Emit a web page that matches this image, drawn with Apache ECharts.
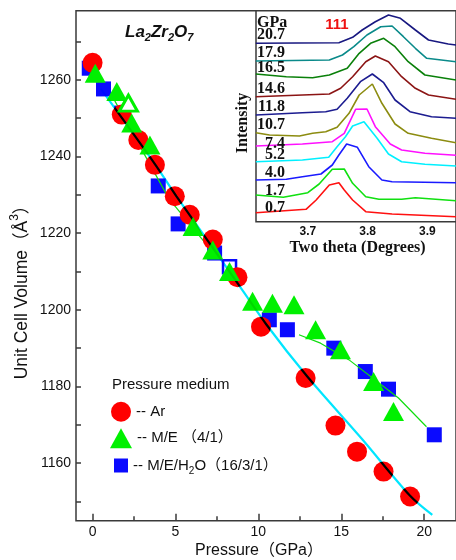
<!DOCTYPE html>
<html><head><meta charset="utf-8">
<script src="https://cdn.jsdelivr.net/npm/echarts@6/dist/echarts.min.js"></script>
<style>html,body{margin:0;padding:0;background:#fff}#c{width:456px;height:560px}</style>
</head><body><div id="c"></div>
<script>
// ---------- main chart data: [pressure GPa, volume Å^3] ----------
const arPoints = [[0.0,1264.4],[1.76,1250.9],[2.76,1244.3],[3.76,1237.8],[4.96,1229.6],[5.86,1224.8],[7.25,1218.3],[8.74,1208.5],[10.16,1195.6],[12.85,1182.2],[14.65,1169.8],[15.95,1163.0],[17.55,1157.8],[19.15,1151.3]];
const mePoints = [[0.16,1261.7],[1.46,1256.9],[2.36,1248.7],[3.46,1243.0],[6.06,1221.7],[7.25,1215.6],[8.26,1210.0],[9.65,1202.2],[10.85,1201.7],[12.15,1201.3],[13.45,1194.8],[14.95,1189.6],[16.95,1181.3],[18.15,1173.5]];
const meHollow = [[2.16,1253.9]];
const mehPoints = [[-0.2,1263.0],[0.66,1257.6],[1.76,1251.3],[3.96,1232.3],[5.16,1222.4],[7.36,1214.8],[10.66,1197.4],[11.75,1194.8],[14.55,1190.0],[16.45,1183.9],[17.85,1179.3],[20.61,1167.4]];
const mehHollow = [[8.26,1211.2]];
const arFit = [[0.5,1257.6],[3.76,1238.0],[5.06,1229.6],[8.45,1208.8],[10.46,1196.3],[12.95,1182.6],[16.25,1166.3],[19.15,1151.5],[20.49,1146.5]];
const meFitLow = [[1.2,1255.6],[4.6,1229.0],[6.8,1217.4]];
const meFitHigh = [[12.45,1193.5],[13.75,1191.3],[15.45,1187.0],[18.45,1177.0],[20.14,1169.5]];
const xMajorTicks = [0,5,10,15,20];
const xMinorTicks = [2.5,7.5,12.5,17.5];
const yTicks = [1150,1160,1170,1180,1190,1200,1210,1220,1230,1240,1250,1260,1270];
const yLabels = [1160,1180,1200,1220,1240,1260];

// ---------- inset: XRD (111) peak profiles [two theta, stacked intensity] ----------
const xrdPressures = ['0.7','1.7','4.0','5.2','7.4','10.7','11.8','14.6','16.5','17.9','20.7'];
const xrd07 = [[3.613,9.0],[3.697,12.4],[3.714,21.7],[3.736,36.7],[3.752,39.0],[3.761,31.7],[3.775,21.7],[3.797,10.0],[3.841,7.7],[3.948,5.0]];
const xrd17 = [[3.613,26.7],[3.659,24.4],[3.700,29.0],[3.719,37.7],[3.741,52.4],[3.761,52.7],[3.775,38.4],[3.797,25.0],[3.819,22.4],[3.857,22.4],[3.880,24.0],[3.948,21.0]];
const xrd40 = [[3.613,41.7],[3.664,42.4],[3.691,45.0],[3.722,47.7],[3.741,56.7],[3.752,66.7],[3.765,77.7],[3.783,74.4],[3.802,55.0],[3.824,41.7],[3.841,40.0],[3.948,39.0]];
const xrd52 = [[3.613,60.0],[3.691,61.7],[3.735,64.4],[3.749,75.0],[3.763,85.0],[3.775,95.7],[3.794,100.0],[3.816,83.4],[3.835,67.7],[3.857,60.0],[3.896,57.4],[3.948,55.7]];
const xrd74 = [[3.613,75.7],[3.691,77.7],[3.719,79.0],[3.741,80.0],[3.761,88.4],[3.780,112.4],[3.799,112.7],[3.813,95.0],[3.838,77.7],[3.857,71.7],[3.896,68.4],[3.948,66.4]];
const xrd107 = [[3.613,89.0],[3.636,86.7],[3.686,85.7],[3.708,88.4],[3.730,90.0],[3.749,94.4],[3.769,108.4],[3.786,126.7],[3.808,137.7],[3.824,118.4],[3.846,97.7],[3.868,88.4],[3.907,83.4],[3.948,79.0]];
const xrd118 = [[3.613,106.7],[3.691,109.0],[3.730,110.0],[3.749,112.4],[3.766,123.4],[3.788,140.0],[3.808,147.7],[3.827,139.0],[3.846,121.7],[3.871,110.0],[3.907,105.0],[3.948,103.4]];
const xrd146 = [[3.613,125.0],[3.736,127.7],[3.755,133.4],[3.775,145.0],[3.797,160.0],[3.813,165.7],[3.835,160.0],[3.857,145.0],[3.880,133.4],[3.902,126.7],[3.948,122.4]];
const xrd165 = [[3.613,147.7],[3.664,145.0],[3.708,144.0],[3.736,146.7],[3.766,153.4],[3.786,168.4],[3.805,178.4],[3.827,183.4],[3.846,175.0],[3.868,160.0],[3.896,146.7],[3.948,141.7]];
const xrd179 = [[3.613,160.7],[3.736,161.7],[3.758,166.7],[3.777,175.0],[3.799,186.7],[3.822,195.0],[3.841,195.7],[3.860,185.0],[3.880,173.4],[3.899,163.4],[3.948,160.0]];
const xrd207 = [[3.613,178.4],[3.752,179.0],[3.775,184.4],[3.791,191.7],[3.813,200.0],[3.835,206.7],[3.855,203.4],[3.880,191.7],[3.902,181.7],[3.935,177.7],[3.948,176.7]];
const xrdCurves = [xrd07,xrd17,xrd40,xrd52,xrd74,xrd107,xrd118,xrd146,xrd165,xrd179,xrd207];
const xrdColors = ['#ff1010','#10e010','#1a1aff','#00f0ff','#ff10ff','#8c8c10','#1c1c90','#8b1414','#0a800a','#0a8a8a','#181880'];
const insetTicks = [3.65,3.7,3.75,3.8,3.85,3.9];
const insetLabels = [3.7,3.8,3.9];

const SANS = '"Liberation Sans", Arial, "Noto Sans CJK SC", sans-serif';
const SERIF = '"Liberation Serif", "Times New Roman", serif';
const axisCol = '#3a3a3a';

const chart = echarts.init(document.getElementById('c'), null, {renderer:'canvas'});

const labelYs = [208.3,190.7,172.7,155,144,125,106.7,89.3,67.7,53.3,35];
const graphics = [
  {type:'text', x:22, y:288, rotation:Math.PI/2, z:100,
   style:{text:'{t|Unit Cell Volume（Å}{s|3}{t|）}', align:'center', verticalAlign:'middle', fill:'#111',
     rich:{t:{fontFamily:SANS, fontSize:17.5, lineHeight:26, fill:'#111'}, s:{fontFamily:SANS, fontSize:12, verticalAlign:'top', lineHeight:12, fill:'#111'}}}},
  {type:'text', x:259, y:551, z:100,
   style:{text:'Pressure（GPa）', font:'16px '+SANS, align:'center', verticalAlign:'middle', fill:'#111'}},
  {type:'text', x:125, y:32, z:100,
   style:{text:'{t|La}{s|2}{t|Zr}{s|2}{t|O}{s|7}', align:'left', verticalAlign:'middle',
     rich:{t:{fontFamily:SANS, fontSize:17, fontWeight:'bold', fontStyle:'italic', lineHeight:22, fill:'#111'},
           s:{fontFamily:SANS, fontSize:11, fontWeight:'bold', fontStyle:'italic', verticalAlign:'bottom', lineHeight:11, fill:'#111'}}}},
  {type:'text', x:112, y:385, z:100,
   style:{text:'Pressure medium', font:'15px '+SANS, align:'left', verticalAlign:'middle', fill:'#111'}},
  {type:'text', x:257, y:22.7, z:100,
   style:{text:'GPa', font:'bold 16px '+SERIF, align:'left', verticalAlign:'middle', fill:'#111'}},
  {type:'text', x:337, y:25, z:100,
   style:{text:'111', font:'bold 15px '+SANS, align:'center', verticalAlign:'middle', fill:'#ee1111'}},
  {type:'text', x:357.5, y:248, z:100,
   style:{text:'Two theta (Degrees)', font:'bold 16px '+SERIF, align:'center', verticalAlign:'middle', fill:'#111'}},
  {type:'text', x:243, y:123, rotation:Math.PI/2, z:100,
   style:{text:'Intensity', font:'bold 16px '+SERIF, align:'center', verticalAlign:'middle', fill:'#111'}}
];
xrdPressures.forEach((p,i)=>{
  graphics.push({type:'text', x:285, y:labelYs[i], z:100,
    style:{text:p, font:'bold 16px '+SERIF, align:'right', verticalAlign:'middle', fill:'#111'}});
});

const series = [
  {name:'M/E/H2O', type:'scatter', xAxisIndex:0, yAxisIndex:0, data:mehPoints, symbol:'rect', symbolSize:15,
   itemStyle:{color:'#0a0aff', opacity:1}, z:2},
  {name:'mehHollow', type:'scatter', xAxisIndex:0, yAxisIndex:0, data:mehHollow, symbol:'rect', symbolSize:13,
   itemStyle:{color:'#fff', borderColor:'#0a0aff', borderWidth:2.5, opacity:1}, z:2},
  {name:'Ar', type:'scatter', xAxisIndex:0, yAxisIndex:0, data:arPoints, symbol:'circle', symbolSize:20,
   itemStyle:{color:'#ff0000', opacity:1}, z:3},
  {name:'M/E', type:'scatter', xAxisIndex:0, yAxisIndex:0, data:mePoints, symbol:'triangle', symbolSize:[21,19],
   itemStyle:{color:'#00f000', opacity:1}, z:4},
  {name:'meHollow', type:'scatter', xAxisIndex:0, yAxisIndex:0, data:meHollow, symbol:'triangle', symbolSize:[18,16],
   itemStyle:{color:'#fff', borderColor:'#00f000', borderWidth:3, opacity:1}, z:4},
  {name:'meFitLow', type:'line', xAxisIndex:0, yAxisIndex:0, data:meFitLow, symbol:'none',
   lineStyle:{color:'#10dd10', width:1.2}, z:3},
  {name:'meFitHigh', type:'line', xAxisIndex:0, yAxisIndex:0, data:meFitHigh, symbol:'none',
   lineStyle:{color:'#10dd10', width:1.2}, z:3},
  {name:'arFit', type:'line', xAxisIndex:0, yAxisIndex:0, data:arFit, symbol:'none', smooth:0.3,
   blendMode:'multiply', lineStyle:{color:'#00e6ff', width:2.2}, z:10}
];
xrdCurves.forEach((c,i)=>{
  series.push({name:'xrd'+xrdPressures[i], type:'line', xAxisIndex:2, yAxisIndex:1, data:c, symbol:'none',
    lineStyle:{color:xrdColors[i], width:1.6}, z:5});
});

const legendText = {fontFamily:SANS, fontSize:15, color:'#111',
  rich:{t:{fontFamily:SANS, fontSize:15, color:'#111'}, s:{fontFamily:SANS, fontSize:10, color:'#111', verticalAlign:'bottom', lineHeight:22}}};
const option = {
  backgroundColor:'#fff',
  animation:false,
  graphic: graphics,
  legend:[
    {data:[{name:'Ar', icon:'circle'}], left:111, top:401.7, itemWidth:20, itemHeight:20, padding:0, selectedMode:false,
     formatter:'-- Ar', textStyle:legendText},
    {data:[{name:'M/E', icon:'triangle'}], left:110, top:428.3, itemWidth:22, itemHeight:20, padding:0, selectedMode:false,
     formatter:'-- M/E （4/1）', textStyle:legendText},
    {data:[{name:'M/E/H2O', icon:'rect'}], left:114, top:458, itemWidth:14, itemHeight:14, padding:0, selectedMode:false,
     formatter:'{t|-- M/E/H}{s|2}{t|O（16/3/1）}', textStyle:legendText}
  ],
  grid:[
    {left:76, top:10.7, right:-2, bottom:39.3, show:true, borderColor:axisCol, borderWidth:1.5, backgroundColor:'transparent', containLabel:false},
    {left:256, top:10.7, right:-2, bottom:338.3, show:true, borderColor:axisCol, borderWidth:1.5, backgroundColor:'#fff', containLabel:false, z:1}
  ],
  xAxis:[
    {type:'value', gridIndex:0, min:-1, max:21.92, position:'bottom', axisLine:{show:false, onZero:false}, splitLine:{show:false},
     axisTick:{show:true, inside:true, length:7, customValues:xMajorTicks, lineStyle:{color:axisCol, width:1.5}},
     axisLabel:{customValues:xMajorTicks, fontFamily:SANS, fontSize:14, color:'#111', margin:4, formatter:v=>String(v)}},
    {type:'value', gridIndex:0, min:-1, max:21.92, position:'top', offset:-510, axisLine:{show:false, onZero:false}, splitLine:{show:false},
     axisTick:{show:true, inside:false, length:4.5, customValues:xMinorTicks, lineStyle:{color:axisCol, width:1.5}},
     axisLabel:{show:false}},
    {type:'value', gridIndex:1, min:3.6133, max:3.948, position:'bottom', axisLine:{show:false, onZero:false}, splitLine:{show:false},
     axisTick:{show:true, inside:true, length:4, customValues:insetTicks, lineStyle:{color:axisCol, width:1.3}},
     axisLabel:{customValues:insetLabels, fontFamily:SANS, fontWeight:'bold', fontSize:12, color:'#111', margin:4,
       formatter:v=>v.toFixed(1)}}
  ],
  yAxis:[
    {type:'value', gridIndex:0, min:1145, max:1278, position:'left', axisLine:{show:false, onZero:false}, splitLine:{show:false},
     axisTick:{show:true, inside:true, length:5, customValues:yTicks, lineStyle:{color:axisCol, width:1.5}},
     axisLabel:{customValues:yLabels, fontFamily:SANS, fontSize:14, color:'#111', margin:5, formatter:v=>String(v)}},
    {type:'value', gridIndex:1, min:0, max:211, position:'left', axisLine:{show:false, onZero:false}, splitLine:{show:false},
     axisTick:{show:false}, axisLabel:{show:false}}
  ],
  series: series
};
chart.setOption(option);
</script></body></html>
